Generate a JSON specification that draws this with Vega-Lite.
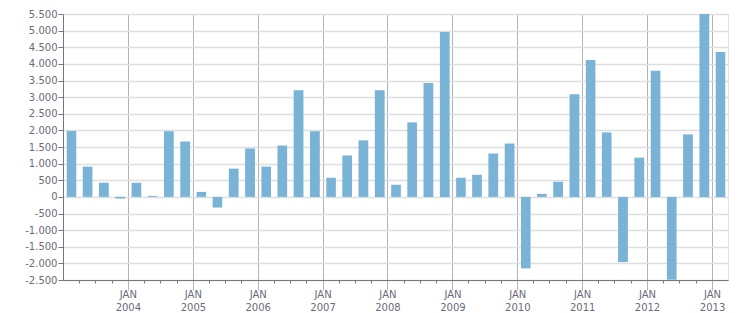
{
  "$schema": "https://vega.github.io/schema/vega-lite/v6.json",
  "width": 665,
  "height": 266,
  "autosize": {"type": "none"},
  "padding": {"left": 63, "top": 14, "right": 23, "bottom": 33},
  "background": "white",
  "config": {
    "view": {"stroke": "#e0e0e0", "strokeWidth": 1},
    "axis": {"labelFont": "DejaVu Sans", "labelFontSize": 10, "labelColor": "#6b6b7b"}
  },
  "data": {
    "values": [
      {"date": "2003/02/15", "value": 1980},
      {"date": "2003/05/15", "value": 910},
      {"date": "2003/08/15", "value": 425},
      {"date": "2003/11/15", "value": -50},
      {"date": "2004/02/15", "value": 425},
      {"date": "2004/05/15", "value": 30},
      {"date": "2004/08/15", "value": 1975},
      {"date": "2004/11/15", "value": 1665},
      {"date": "2005/02/15", "value": 150},
      {"date": "2005/05/15", "value": -320},
      {"date": "2005/08/15", "value": 850},
      {"date": "2005/11/15", "value": 1455},
      {"date": "2006/02/15", "value": 910},
      {"date": "2006/05/15", "value": 1545},
      {"date": "2006/08/15", "value": 3210},
      {"date": "2006/11/15", "value": 1970},
      {"date": "2007/02/15", "value": 575},
      {"date": "2007/05/15", "value": 1245},
      {"date": "2007/08/15", "value": 1700},
      {"date": "2007/11/15", "value": 3210},
      {"date": "2008/02/15", "value": 365},
      {"date": "2008/05/15", "value": 2240},
      {"date": "2008/08/15", "value": 3425},
      {"date": "2008/11/15", "value": 4960},
      {"date": "2009/02/15", "value": 575},
      {"date": "2009/05/15", "value": 665},
      {"date": "2009/08/15", "value": 1305},
      {"date": "2009/11/15", "value": 1605},
      {"date": "2010/02/15", "value": -2150},
      {"date": "2010/05/15", "value": 90},
      {"date": "2010/08/15", "value": 455},
      {"date": "2010/11/15", "value": 3090},
      {"date": "2011/02/15", "value": 4120},
      {"date": "2011/05/15", "value": 1940},
      {"date": "2011/08/15", "value": -1960},
      {"date": "2011/11/15", "value": 1180},
      {"date": "2012/02/15", "value": 3790},
      {"date": "2012/05/15", "value": -2490},
      {"date": "2012/08/15", "value": 1880},
      {"date": "2012/11/15", "value": 5500},
      {"date": "2013/02/15", "value": 4360}
    ]
  },
  "mark": {"type": "bar", "color": "#79b3d5", "width": {"band": 0.66}, "clip": true},
  "encoding": {
    "x": {
      "field": "date",
      "timeUnit": "yearquarter",
      "type": "temporal",
      "title": null,
      "scale": {"domain": [{"year": 2003, "month": 1, "date": 1}, {"year": 2013, "month": 4, "date": 1}], "nice": false},
      "axis": {
        "values": [
          {"year": 2003, "month": 4, "date": 1}, {"year": 2003, "month": 7, "date": 1}, {"year": 2003, "month": 10, "date": 1},
          {"year": 2004, "month": 1, "date": 1}, {"year": 2004, "month": 4, "date": 1}, {"year": 2004, "month": 7, "date": 1}, {"year": 2004, "month": 10, "date": 1},
          {"year": 2005, "month": 1, "date": 1}, {"year": 2005, "month": 4, "date": 1}, {"year": 2005, "month": 7, "date": 1}, {"year": 2005, "month": 10, "date": 1},
          {"year": 2006, "month": 1, "date": 1}, {"year": 2006, "month": 4, "date": 1}, {"year": 2006, "month": 7, "date": 1}, {"year": 2006, "month": 10, "date": 1},
          {"year": 2007, "month": 1, "date": 1}, {"year": 2007, "month": 4, "date": 1}, {"year": 2007, "month": 7, "date": 1}, {"year": 2007, "month": 10, "date": 1},
          {"year": 2008, "month": 1, "date": 1}, {"year": 2008, "month": 4, "date": 1}, {"year": 2008, "month": 7, "date": 1}, {"year": 2008, "month": 10, "date": 1},
          {"year": 2009, "month": 1, "date": 1}, {"year": 2009, "month": 4, "date": 1}, {"year": 2009, "month": 7, "date": 1}, {"year": 2009, "month": 10, "date": 1},
          {"year": 2010, "month": 1, "date": 1}, {"year": 2010, "month": 4, "date": 1}, {"year": 2010, "month": 7, "date": 1}, {"year": 2010, "month": 10, "date": 1},
          {"year": 2011, "month": 1, "date": 1}, {"year": 2011, "month": 4, "date": 1}, {"year": 2011, "month": 7, "date": 1}, {"year": 2011, "month": 10, "date": 1},
          {"year": 2012, "month": 1, "date": 1}, {"year": 2012, "month": 4, "date": 1}, {"year": 2012, "month": 7, "date": 1}, {"year": 2012, "month": 10, "date": 1},
          {"year": 2013, "month": 1, "date": 1}
        ],
        "labelExpr": "month(datum.value) == 0 ? ['JAN', timeFormat(datum.value, '%Y')] : ''",
        "labelOverlap": false,
        "labelBound": false,
        "labelFlush": false,
        "labelLineHeight": 13,
        "labelPadding": -1,
        "tickSize": {"condition": {"test": "month(datum.value) == 0", "value": 10}, "value": 3},
        "tickColor": {"condition": {"test": "month(datum.value) == 0", "value": "#b3b3b3"}, "value": "#777777"},
        "domainColor": "#777777",
        "grid": true,
        "gridColor": "#b3b3b3",
        "gridWidth": 1,
        "gridOpacity": {"condition": {"test": "month(datum.value) == 0", "value": 1}, "value": 0}
      }
    },
    "y": {
      "field": "value",
      "type": "quantitative",
      "title": null,
      "scale": {"domain": [-2500, 5500], "nice": false, "zero": false},
      "axis": {
        "values": [-2500, -2000, -1500, -1000, -500, 0, 500, 1000, 1500, 2000, 2500, 3000, 3500, 4000, 4500, 5000, 5500],
        "labelExpr": "(datum.value < 0 ? '-' : '') + replace(format(abs(datum.value), ','), ',', '.')",
        "tickSize": 5,
        "labelPadding": 1,
        "tickColor": "#777777",
        "domainColor": "#777777",
        "gridColor": "#dedede",
        "gridWidth": 1.5
      }
    }
  }
}
